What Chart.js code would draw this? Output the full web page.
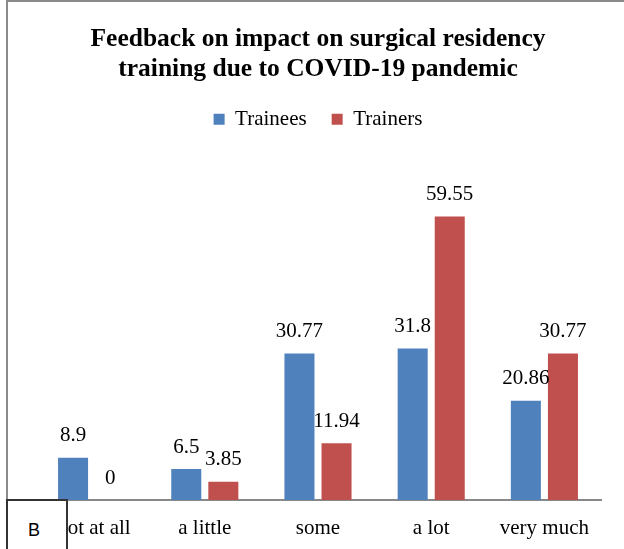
<!DOCTYPE html>
<html>
<head>
<meta charset="utf-8">
<script src="https://cdn.jsdelivr.net/npm/chart.js@4"></script>
<style>
  html, body { margin: 0; padding: 0; background: #fff; }
  #wrap { position: relative; width: 624px; height: 549px; overflow: hidden; }
  #frame { position: absolute; left: 6px; top: 0; width: 700px; height: 600px;
           border-left: 2px solid #8a8a8a; border-top: 2px solid #8a8a8a; }
  #tag { position: absolute; left: 6px; top: 499px; width: 58px; height: 60px;
         border: 2px solid #333; background: #fff;
         font: 18px 'Liberation Sans', Arial, sans-serif; color: #000; }
  #tag span { position: absolute; left: 20px; top: 19px; }
  canvas { position: absolute; left: 0; top: 0; }
</style>
</head>
<body>
<div id="wrap">
  <div id="frame"></div>
  <canvas id="myChart" width="624" height="549"></canvas>
  <div id="tag"><span>B</span></div>
</div>
<script>
var categories = ['Not at all', 'a little', 'some', 'a lot', 'very much']
var trainees = [8.9, 6.5, 30.77, 31.8, 20.86]
var trainers = [0, 3.85, 11.94, 59.55, 30.77]

var serif = "'Liberation Serif', 'Times New Roman', serif"

// value labels above each bar
var barLabels = {
  id: 'barLabels',
  afterDatasetsDraw: function (chart) {
    var ctx = chart.ctx
    ctx.save()
    ctx.font = '21px ' + serif
    ctx.fillStyle = '#000'
    ctx.textAlign = 'center'
    ctx.textBaseline = 'middle'
    chart.data.datasets.forEach(function (ds, i) {
      chart.getDatasetMeta(i).data.forEach(function (bar, j) {
        ctx.fillText(String(ds.data[j]), bar.x, bar.y - 22)
      })
    })
    ctx.restore()
  }
}

var ctx = document.getElementById('myChart').getContext('2d')
var chart = new Chart(ctx, {
  type: 'bar',
  data: {
    labels: categories,
    datasets: [{
      label: 'Trainees',
      backgroundColor: '#4F81BD',
      data: trainees
    }, {
      label: 'Trainers',
      backgroundColor: '#C0504D',
      data: trainers
    }]
  },
  options: {
    responsive: false,
    animation: false,
    devicePixelRatio: 1,
    layout: { padding: { left: 35, right: 23, top: 0, bottom: 0 } },
    datasets: { bar: { barPercentage: 0.81, categoryPercentage: 0.655 } },
    plugins: {
      title: {
        display: true,
        text: ['Feedback on impact on surgical residency', 'training due to COVID-19 pandemic'],
        color: '#000',
        font: { family: serif, size: 25.5, weight: 'bold', lineHeight: 1.15 },
        padding: { top: 25, bottom: 0 }
      },
      legend: {
        labels: {
          color: '#000',
          font: { family: serif, size: 21 },
          boxWidth: 11,
          boxHeight: 11,
          padding: 25
        }
      },
      tooltip: { enabled: false }
    },
    scales: {
      x: {
        grid: { display: false, drawTicks: false },
        border: { color: '#888', width: 2 },
        ticks: { color: '#000', font: { family: serif, size: 21 }, padding: 16, maxRotation: 0 },
        afterFit: function (scale) { scale.height = 49 }
      },
      y: { display: false, min: 0, max: 75.7 }
    }
  },
  plugins: [barLabels]
})
</script>
</body>
</html>
